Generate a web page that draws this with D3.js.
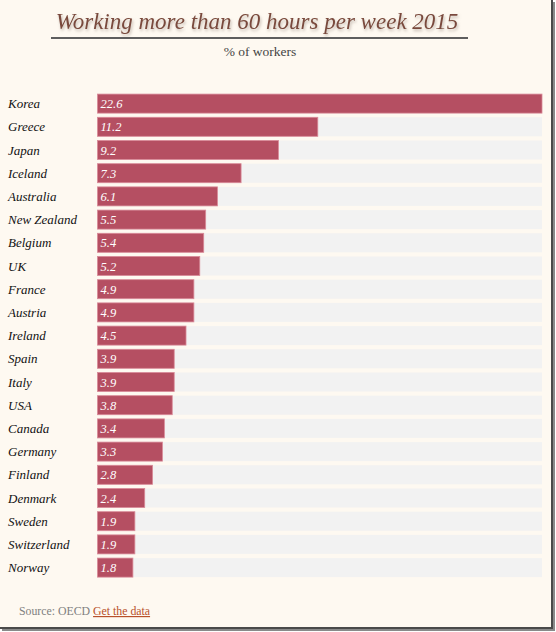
<!DOCTYPE html>
<html>
<head>
<meta charset="utf-8">
<script src="https://d3js.org/d3.v7.min.js"></script>
<style>
  body { margin: 0; background: #ffffff; }
  svg { display: block; }
</style>
</head>
<body>
<svg id="chart"></svg>
<script>
var countries = ["Korea", "Greece", "Japan", "Iceland", "Australia", "New Zealand", "Belgium", "UK",
  "France", "Austria", "Ireland", "Spain", "Italy", "USA", "Canada", "Germany", "Finland",
  "Denmark", "Sweden", "Switzerland", "Norway"];
var values = [22.6, 11.2, 9.2, 7.3, 6.1, 5.5, 5.4, 5.2, 4.9, 4.9, 4.5, 3.9, 3.9, 3.8, 3.4, 3.3, 2.8,
  2.4, 1.9, 1.9, 1.8];

var title = "Working more than 60 hours per week 2015";
var subtitle = "% of workers";

var svgWidth = 556;
var svgHeight = 632;

var svg = d3.select("#chart")
    .attr("width", svgWidth)
    .attr("height", svgHeight);

// frame with a dark edge on the right and bottom
svg.append("rect")
    .attr("x", 2).attr("y", 2)
    .attr("width", 553).attr("height", 629)
    .attr("fill", "#8a8a8a");
svg.append("rect")
    .attr("x", 0).attr("y", 0)
    .attr("width", 553).attr("height", 629)
    .attr("fill", "#4a4a4a");
svg.append("rect")
    .attr("x", 0).attr("y", 0)
    .attr("width", 551).attr("height", 627)
    .attr("fill", "#fef9f1");

var defs = svg.append("defs");
var f = defs.append("filter").attr("id", "tshadow")
    .attr("x", "-5%").attr("y", "-20%").attr("width", "110%").attr("height", "160%");
f.append("feDropShadow")
    .attr("dx", 1).attr("dy", 2).attr("stdDeviation", 1.5)
    .attr("flood-color", "#9a8a80").attr("flood-opacity", 0.6);

svg.append("text")
    .attr("x", 257).attr("y", 29)
    .attr("text-anchor", "middle")
    .attr("font-family", "'Liberation Serif', serif")
    .attr("font-style", "italic")
    .attr("font-size", "23px")
    .attr("fill", "#7a4a3c")
    .attr("filter", "url(#tshadow)")
    .text(title);

svg.append("line")
    .attr("x1", 51).attr("x2", 468)
    .attr("y1", 38).attr("y2", 38)
    .attr("stroke", "#5e5e5e")
    .attr("stroke-width", 2);

svg.append("text")
    .attr("x", 260).attr("y", 56)
    .attr("text-anchor", "middle")
    .attr("font-family", "'Liberation Serif', serif")
    .attr("font-size", "13.5px")
    .attr("fill", "#444")
    .text(subtitle);

var yScale = d3.scaleBand()
    .domain(countries)
    .range([92, 579.2])
    .paddingInner(0.18)
    .paddingOuter(0.09);

var xScale = d3.scaleLinear()
    .domain([0, d3.max(values)])
    .range([97.5, 542]);

var rows = svg.selectAll("g.row")
    .data(countries)
    .enter()
    .append("g")
    .attr("class", "row");

// grey tracks
rows.append("rect")
    .attr("x", xScale(0))
    .attr("y", function(d) { return yScale(d); })
    .attr("width", xScale(d3.max(values)) - xScale(0))
    .attr("height", yScale.bandwidth())
    .attr("fill", "#f2f2f2");

// bars
rows.append("rect")
    .attr("x", xScale(0))
    .attr("y", function(d) { return yScale(d); })
    .attr("width", function(d, i) { return xScale(values[i]) - xScale(0); })
    .attr("height", yScale.bandwidth())
    .attr("fill", "#b54f62")
    .attr("stroke", "#d98a98")
    .attr("stroke-width", 0.8);

// country names
rows.append("text")
    .attr("x", 8)
    .attr("y", function(d) { return yScale(d) + yScale.bandwidth() / 2 + 4.5; })
    .attr("font-family", "'Liberation Serif', serif")
    .attr("font-style", "italic")
    .attr("font-size", "13px")
    .attr("fill", "#111")
    .text(function(d) { return d; });

// values inside bars
rows.append("text")
    .attr("x", xScale(0) + 3)
    .attr("y", function(d) { return yScale(d) + yScale.bandwidth() / 2 + 4.5; })
    .attr("font-family", "'Liberation Serif', serif")
    .attr("font-style", "italic")
    .attr("font-size", "12.5px")
    .attr("fill", "#ffffff")
    .text(function(d, i) { return values[i]; });

// footer
var src = svg.append("text")
    .attr("x", 19).attr("y", 615)
    .attr("font-family", "'Liberation Serif', serif")
    .attr("font-size", "11.8px");
src.append("tspan")
    .attr("fill", "#808080")
    .text("Source: OECD ");
src.append("tspan")
    .attr("fill", "#b8502a")
    .attr("text-decoration", "underline")
    .text("Get the data");
</script>
</body>
</html>
